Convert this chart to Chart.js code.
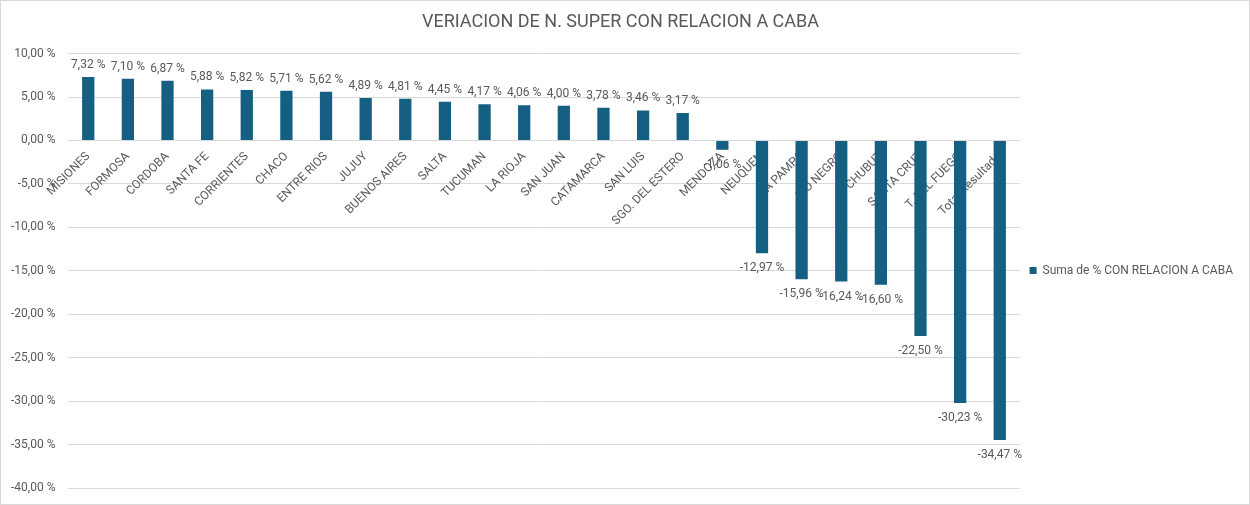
<!DOCTYPE html>
<html>
<head>
<meta charset="utf-8">
<script src="https://cdn.jsdelivr.net/npm/chart.js@4"></script>
<style>
  html, body { margin: 0; padding: 0; background: #ffffff; }
  #wrap { width: 1248px; height: 503px; border: 1px solid #d9d9d9; background: #fff; }
  canvas { display: block; }
</style>
</head>
<body>
<div id="wrap"><canvas id="c" width="1248" height="503"></canvas></div>
<script>
const categories = ["MISIONES", "FORMOSA", "CORDOBA", "SANTA FE", "CORRIENTES", "CHACO", "ENTRE RIOS", "JUJUY", "BUENOS AIRES", "SALTA", "TUCUMAN", "LA RIOJA", "SAN JUAN", "CATAMARCA", "SAN LUIS", "SGO. DEL ESTERO", "MENDOZA", "NEUQUEN", "LA PAMPA", "RIO NEGRO", "CHUBUT", "SANTA CRUZ", "T. DEL FUEGO", "Total Resultado"];
const values = [7.32, 7.10, 6.87, 5.88, 5.82, 5.71, 5.62, 4.89, 4.81, 4.45, 4.17, 4.06, 4.00, 3.78, 3.46, 3.17, -1.06, -12.97, -15.96, -16.24, -16.60, -22.50, -30.23, -34.47];
const seriesName = "Suma de % CON RELACION A CABA";
const chartTitle = "VERIACION DE N. SUPER CON RELACION A CABA";
const yMin = -40, yMax = 10, yStep = 5;

const FONT = "Roboto, 'Liberation Sans', sans-serif";
const GRAY = "#595959";
const fmt = v => Number(v).toFixed(2).replace('.', ',') + ' %';

const valueLabels = {
  id: 'valueLabels',
  afterDatasetsDraw(chart) {
    const ctx = chart.ctx;
    const meta = chart.getDatasetMeta(0);
    ctx.save();
    ctx.font = "12px " + FONT;
    ctx.fillStyle = GRAY;
    ctx.textAlign = 'center';
    ctx.textBaseline = 'middle';
    meta.data.forEach((bar, i) => {
      const v = chart.data.datasets[0].data[i];
      const y = v >= 0 ? bar.y - 12 : bar.y + 15;
      ctx.fillText(fmt(v), bar.x, y);
    });
    ctx.restore();
  }
};

new Chart(document.getElementById('c'), {
  type: 'bar',
  data: {
    labels: categories,
    datasets: [{
      label: seriesName,
      data: values,
      backgroundColor: '#156082',
      borderWidth: 0,
      categoryPercentage: 1,
      barPercentage: 0.31
    }]
  },
  options: {
    responsive: false,
    animation: false,
    layout: { padding: { left: -3, right: 6, top: 0, bottom: 16 } },
    plugins: {
      title: {
        display: true,
        text: chartTitle,
        color: GRAY,
        font: { family: FONT, size: 18, weight: 'normal' },
        padding: { top: 11, bottom: 20 }
      },
      legend: {
        position: 'right',
        title: {
          display: true,
          text: ' ',
          font: { family: FONT, size: 12 },
          padding: { top: 0, bottom: 37.6 }
        },
        labels: {
          color: GRAY,
          font: { family: FONT, size: 12 },
          boxWidth: 7,
          boxHeight: 7,
          padding: 10
        }
      },
      tooltip: { enabled: false }
    },
    scales: {
      x: {
        position: { y: 0 },
        grid: { display: false, drawTicks: false },
        border: { display: false },
        ticks: {
          color: GRAY,
          font: { family: FONT, size: 12 },
          autoSkip: false,
          minRotation: 45,
          maxRotation: 45,
          padding: 9
        },
        afterFit(scale) { scale.height = 0; scale.paddingLeft = 0; scale.paddingRight = 0; }
      },
      y: {
        min: yMin,
        max: yMax,
        grid: { color: '#d9d9d9', drawTicks: false },
        border: { display: false },
        ticks: {
          stepSize: yStep,
          color: GRAY,
          font: { family: FONT, size: 12 },
          padding: 13,
          callback: v => fmt(v)
        },
        afterFit(scale) { scale.paddingTop = 0; scale.paddingBottom = 0; }
      }
    }
  },
  plugins: [valueLabels]
});
</script>
</body>
</html>
